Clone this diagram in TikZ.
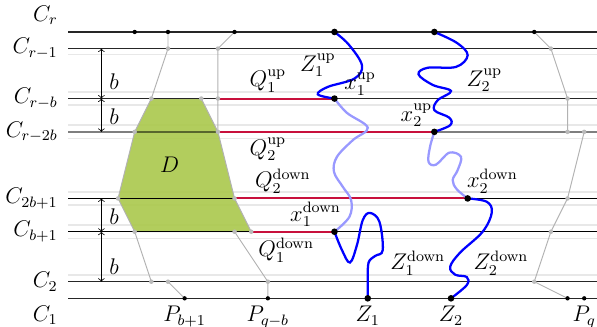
\documentclass[tikz,border=0pt,12pt]{standalone}
\usepackage{amsmath,amssymb}
\usepackage{tikz}
\usetikzlibrary{positioning}

\definecolor{qred}{RGB}{200,16,60}
\definecolor{dgreen}{RGB}{170,200,75}

\tikzset{
  cyc/.style={line width=0.6pt, black!85},
  ghost/.style={line width=0.8pt, black!9},
  gpath/.style={line width=0.5pt, black!30},
  qpath/.style={line width=1.1pt, qred},
  zpath/.style={line width=1.2pt, blue},
  zlight/.style={line width=1.2pt, blue!40},
  bdot/.style={fill=black},
  gdot/.style={fill=black!27},
  lab/.style={inner sep=1pt},
}

\begin{document}
\begin{tikzpicture}[x=0.31cm, y=-0.31cm]

\useasboundingbox (-0.09,-1.92) rectangle (35.77,17.72);

% faint neighbouring cycles
\foreach \y in {1.35, 3.6, 4.4, 5.6, 6.4, 9.6, 10.4, 11.6, 12.4, 14.6}
  \draw[ghost] (4,\y) -- (35.77,\y);

% points
\coordinate (cr8) at (8,0);
\coordinate (cr10) at (10,0);
\coordinate (cr14) at (14,0);
\coordinate (z1top) at (20,0);
\coordinate (z2top) at (26,0);
\coordinate (cr32) at (32,0);

\coordinate (rm10) at (10,1);
\coordinate (rm13) at (13,1);
\coordinate (rm33) at (33,1);

\coordinate (rb9) at (9,4);
\coordinate (rb12) at (12,4);
\coordinate (rb13) at (13,4);
\coordinate (x1up) at (20,4);
\coordinate (rb34) at (34,4);

\coordinate (rbb8) at (8,6);
\coordinate (rbb13) at (13,6);
\coordinate (x2up) at (26,6);
\coordinate (rbb34) at (34,6);
\coordinate (rbb35) at (35,6);

\coordinate (tb7) at (7,10);
\coordinate (tb14) at (14,10);
\coordinate (x2down) at (28,10);
\coordinate (tb34) at (34,10);

\coordinate (sb8) at (8,12);
\coordinate (sb14) at (14,12);
\coordinate (sb15) at (15,12);
\coordinate (x1down) at (20,12);
\coordinate (sb33) at (33,12);

\coordinate (ct9) at (9,15);
\coordinate (ct10) at (10,15);
\coordinate (ct16) at (16,15);
\coordinate (ct32) at (32,15);

\coordinate (p11) at (11,16);
\coordinate (p16) at (16,16);
\coordinate (z1) at (22,16);
\coordinate (z2) at (27,16);
\coordinate (p34) at (34,16);
\coordinate (p35) at (35,16);

% the region D
\draw[gpath, fill=dgreen, fill opacity=0.9]
  (rb9) -- (rb12) -- (rbb13) -- (tb14) -- (sb15)
  -- (sb8) -- (tb7) -- (rbb8) -- cycle;

% the cycles
\draw[cyc] (4,0) -- (35.77,0);
\draw[cyc] (4,1) -- (35.77,1);
\draw[cyc] (4,4) -- (35.77,4);
\draw[line width=0.8pt, black, opacity=0.5] (4,6) -- (35.77,6);
\draw[cyc, black] (4,10) -- (35.77,10);
\draw[cyc, black] (4,12) -- (35.77,12);
\draw[cyc] (4,15) -- (35.77,15);
\draw[cyc] (4,16) -- (35.77,16);

\node[anchor=east] (lr) at (3.85,-1) {$C_r$};
\node[anchor=east] (lr1) at (3.85,1) {$C_{r-1}$};
\node[anchor=east] (lrb) at (3.85,4) {$C_{r-b}$};
\node[anchor=east] (lrbb) at (3.85,6) {$C_{r-2b}$};
\node[anchor=east] (ltb) at (3.85,10) {$C_{2b+1}$};
\node[anchor=east] (lsb) at (3.85,12) {$C_{b+1}$};
\node[anchor=east] (l2) at (3.85,15) {$C_2$};
\node[anchor=east] (l1) at (3.85,17) {$C_1$};

% distances
\coordinate (ba) at (6,1);
\coordinate (bb) at (6,4);
\coordinate (bc) at (6,6);
\coordinate (bd) at (6,10);
\coordinate (be) at (6,12);
\coordinate (bf) at (6,15);
\draw[<->] (ba) -- (bb);
\draw[<->] (bb) -- (bc);
\draw[<->] (bd) -- (be);
\draw[<->] (be) -- (bf);
\node[anchor=west] (b1) at (6,3) {$b$};
\node[anchor=west] (b2) at (6,5.1) {$b$};
\node[anchor=west] (b3) at (6,11.1) {$b$};
\node[anchor=west] (b4) at (6,14.1) {$b$};

% the Q paths
\draw[qpath] (rb13) -- (x1up);
\draw[qpath] (rbb13) -- (x2up);
\draw[qpath] (tb14) -- (x2down);
\draw[qpath] (sb15) -- (x1down);

% grey paths
\draw[gpath] (cr10) -- (rm10) -- (rb9);
\draw[gpath] (cr14) -- (rm13) -- (rb13) -- (rbb13);
\draw[gpath] (cr32) -- (rm33) -- (rb34) -- (rbb34);
\draw[gpath] (rbb35) -- (tb34) -- (sb33) -- (ct32) -- (p34);
\draw[gpath] (sb8) -- (ct9);
\draw[gpath] (ct10) -- (p11);
\draw[gpath] (sb14) -- (ct16) -- (p16);

% the Z paths
\draw[zpath] plot[smooth, tension=0.6] coordinates {
  (z1top) (20.85,0.75) (21.65,2.0) (21.2,2.8) (19.6,3.3) (19.0,3.75) (x1up)};
\draw[zlight] plot[smooth, tension=0.6] coordinates {
  (x1up) (20.75,4.86) (22.0,5.75) (21.1,6.5) (20.15,7.5) (19.97,8.4)
  (20.5,9.3) (21.0,10.1) (20.9,11.1) (x1down)};
\draw[zpath] plot[smooth, tension=0.6] coordinates {
  (z2top) (27.36,0.66) (28.0,1.4) (27.3,2.1) (25.6,2.15) (25.05,2.55)
  (25.9,3.18) (27.0,3.55) (26.2,4.1) (26.0,4.7) (26.9,5.15) (26.95,5.6) (x2up)};
\draw[zlight] plot[smooth, tension=0.6] coordinates {
  (x2up) (25.74,6.9) (25.65,7.8) (26.1,7.97) (26.9,7.25) (27.6,7.5)
  (27.4,8.3) (27.1,8.9) (27.35,9.45) (x2down)};
\draw[zpath] plot[smooth, tension=0.6] coordinates {
  (x2down) (29.15,10.2) (29.45,10.85) (28.9,12.0) (27.55,13.25) (26.95,14.1)
  (27.25,14.58) (27.95,14.72) (27.95,15.2) (z2)};
\draw[zpath] plot[smooth, tension=0.6] coordinates {
  (x1down) (20.45,13.1) (20.93,13.85) (21.35,12.8) (21.7,11.3) (22.13,10.87)
  (22.7,11.4) (22.9,13.1) (22.45,13.45) (22.05,13.85) (22.0,14.9) (z1)};

% dots
\foreach \p in {rm10, rm13, rm33, rb9, rb12, rb13, rb34, rbb8, rbb13,
  rbb34, rbb35, tb7, tb14, tb34, sb8, sb14, sb15, sb33, ct9, ct10, ct16, ct32}
  \fill[gdot] (\p) circle (1.2pt);
\foreach \p in {cr8, cr10, cr14, cr32, p11, p16, p34, p35}
  \fill[bdot] (\p) circle (1.15pt);
\foreach \p in {z1top, z2top, x1up, x2up, x2down, x1down, z1, z2}
  \fill[bdot] (\p) circle (1.75pt);

% labels
\node (D) at (10.1,8) {$D$};
\node[lab, above=2pt] (q1up) at (16,4) {$Q_1^{\mathrm{up}}$};
\node[lab, below=2pt] (q2up) at (16,6) {$Q_2^{\mathrm{up}}$};
\node[lab, above=1.5pt] (q2down) at (16.9,10) {$Q_2^{\mathrm{down}}$};
\node[lab, below=2pt] (q1down) at (17.1,12) {$Q_1^{\mathrm{down}}$};
\node[lab, above right=0.5pt and 4pt of x1up] (lx1up) {$x_1^{\mathrm{up}}$};
\node[lab, above left=1.5pt and 0pt of x2up] (lx2up) {$x_2^{\mathrm{up}}$};
\node[lab, above right=1.5pt and -1.5pt of x2down] (lx2down) {$x_2^{\mathrm{down}}$};
\node[lab, above left=1.5pt and -4.5pt of x1down] (lx1down) {$x_1^{\mathrm{down}}$};
\node[lab] (lz1up) at (19.0,2.0) {$Z_1^{\mathrm{up}}$};
\node[lab] (lz2up) at (29.0,2.9) {$Z_2^{\mathrm{up}}$};
\node[lab] (lz1down) at (25.0,13.9) {$Z_1^{\mathrm{down}}$};
\node[lab] (lz2down) at (30.0,13.9) {$Z_2^{\mathrm{down}}$};
\node[below=0pt of p11] (lp11) {$P_{b+1}$};
\node[below=0pt of p16] (lp16) {$P_{q-b}$};
\node[below=0pt of z1] (lz1) {$Z_1$};
\node[below=0pt of z2] (lz2) {$Z_2$};
\node[below=0pt of p35] (lp35) {$P_q$};

\end{tikzpicture}
\end{document}
